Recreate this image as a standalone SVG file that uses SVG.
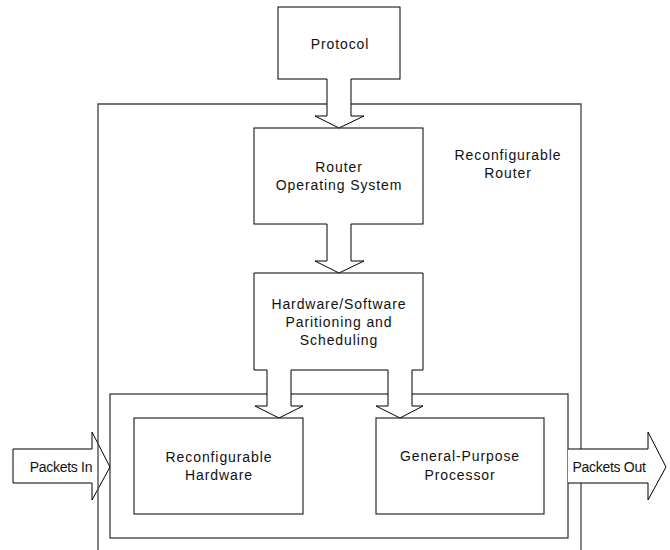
<svg xmlns="http://www.w3.org/2000/svg" width="670" height="550" viewBox="0 0 670 550">
<style>
  .box { fill: #fff; stroke: #000; stroke-width: 1; }
  .arrow { fill: #fff; stroke: #000; stroke-width: 1; stroke-linejoin: miter; }
  .fillonly { fill: #fff; stroke: none; }
  .edge { fill: none; stroke: #000; stroke-width: 1; }
  .outer { fill: none; stroke: #444; stroke-width: 1.3; }
  .lbl { font-family: "Liberation Sans", Arial, sans-serif; font-size: 14px; letter-spacing: 0.9px; fill: #111; text-anchor: middle; }
  .plbl { font-family: "Liberation Sans", Arial, sans-serif; font-size: 14px; letter-spacing: -0.3px; fill: #111; text-anchor: middle; }
</style>
<rect width="670" height="550" fill="#fff"/>

<g id="packets-in">
  <polygon class="arrow" points="13,449 92,449 92,432 110,467 92,500 92,483 13,483"/>
  <text class="plbl" x="61" y="472">Packets In</text>
</g>

<g id="reconfigurable-router">
  <path class="outer" d="M98,550 V104 H581 V550"/>
  <text class="lbl" x="508" y="160">Reconfigurable</text>
  <text class="lbl" x="508" y="178">Router</text>
</g>

<g id="inner-box">
  <rect class="box" x="110" y="394" width="458" height="144" fill="none"/>
</g>

<g id="packets-out">
  <polygon class="fillonly" points="568,449 648,449 648,432 666,467 648,500 648,483 568,483"/>
  <path class="edge" d="M568,449 H648 V432 L666,467 L648,500 V483 H568"/>
  <text class="plbl" x="609" y="472">Packets Out</text>
</g>

<g id="protocol">
  <rect class="box" x="278" y="7" width="122" height="72"/>
  <text class="lbl" x="340" y="49">Protocol</text>
</g>

<g id="router-os">
  <rect class="box" x="254" y="128" width="169" height="96"/>
  <text class="lbl" x="339" y="172">Router</text>
  <text class="lbl" x="339" y="190">Operating System</text>
</g>

<g id="hw-sw-partitioning">
  <path class="box" d="M254,273 H423 V370 H412 V406 H423 L400,418 L376,406 H388 V370 H291 V406 H303 L279,418 L255,406 H267 V370 H254 Z"/>
  <text class="lbl" x="339" y="309">Hardware/Software</text>
  <text class="lbl" x="339" y="327">Paritioning and</text>
  <text class="lbl" x="339" y="345">Scheduling</text>
</g>

<g id="reconfigurable-hardware">
  <rect class="box" x="134" y="418" width="169" height="96"/>
  <text class="lbl" x="219" y="462">Reconfigurable</text>
  <text class="lbl" x="219" y="480">Hardware</text>
</g>

<g id="general-purpose-processor">
  <rect class="box" x="376" y="418" width="168" height="96"/>
  <text class="lbl" x="460" y="461">General-Purpose</text>
  <text class="lbl" x="460" y="480">Processor</text>
</g>

<g id="connectors">
  <polygon class="fillonly" points="327,78 327,116 315,116 339,128 364,116 351,116 351,78"/>
  <path class="edge" d="M327,79 V116 H315 L339,128 L364,116 H351 V79"/>
  <polygon class="fillonly" points="327,223 327,261 315,261 339,273 364,261 351,261 351,223"/>
  <path class="edge" d="M327,224 V261 H315 L339,273 L364,261 H351 V224"/>
</g>
</svg>
